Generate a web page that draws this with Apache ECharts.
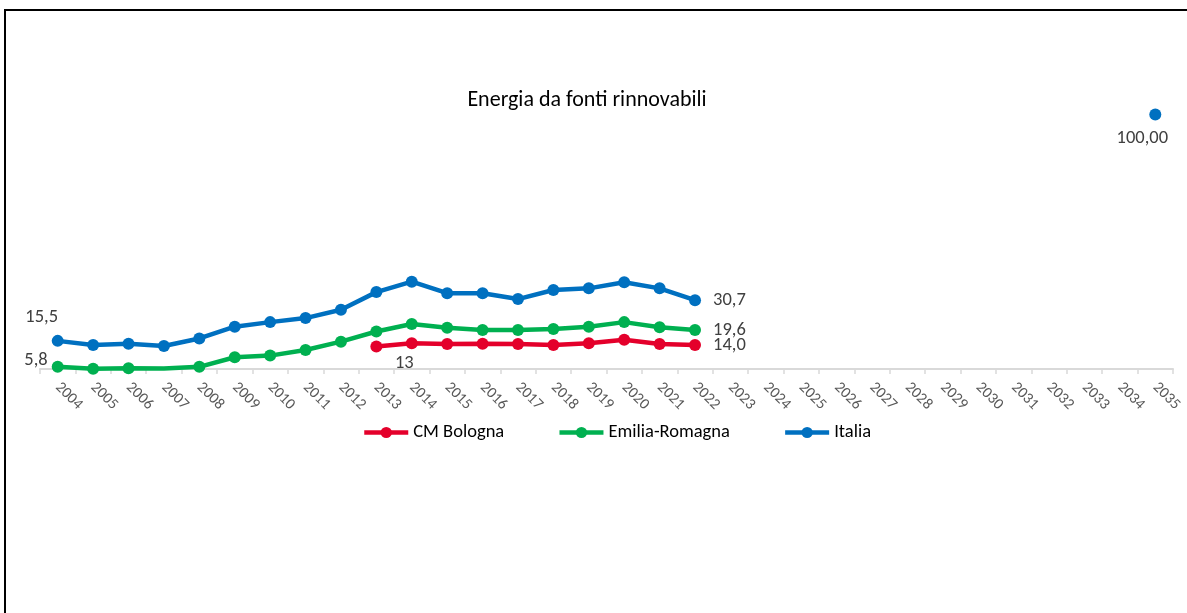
<!DOCTYPE html>
<html>
<head>
<meta charset="utf-8">
<script src="https://cdn.jsdelivr.net/npm/echarts@6/dist/echarts.min.js"></script>
<style>
html,body{margin:0;padding:0;background:#fff;}
#c{width:1187px;height:613px;}
</style>
</head>
<body>
<div id="c"></div>
<script>
// ---- data ----
const years = ['2004','2005','2006','2007','2008','2009','2010','2011','2012','2013','2014','2015','2016','2017','2018','2019','2020','2021','2022','2023','2024','2025','2026','2027','2028','2029','2030','2031','2032','2033','2034','2035'];
const bolognaValues = [null,null,null,null,null,null,null,null,null,13.4,14.6,14.3,14.4,14.3,14.0,14.6,15.9,14.3,14.0,null,null,null,null,null,null,null,null,null,null,null,null,null];
const emiliaValues = [5.8,5.1,5.3,5.2,5.8,9.4,10.0,12.1,15.2,19.0,21.8,20.4,19.6,19.6,19.9,20.8,22.5,20.6,19.6,null,null,null,null,null,null,null,null,null,null,null,null,null];
const italiaValues = [15.5,14.0,14.4,13.6,16.4,20.8,22.5,24.0,27.1,33.7,37.6,33.3,33.3,31.1,34.5,35.1,37.4,35.1,30.7,null,null,null,null,null,null,null,null,null,null,null,null,100];
const bolognaLabels = {'2013':'13','2022':'14,0'};
const emiliaLabels = {'2004':'5,8','2022':'19,6'};
const italiaLabels = {'2004':'15,5','2022':'30,7','2035':'100,00'};
const emiliaNoMarker = ['2007'];
const seriesNames = ['CM Bologna','Emilia-Romagna','Italia'];
const titleText = 'Energia da fonti rinnovabili';

// ---- styles ----
const FONT = "Carlito, Calibri, 'Open Sans', sans-serif";
const colors = {'CM Bologna':'#E4002B','Emilia-Romagna':'#00B050','Italia':'#0070C0'};
const labelPlacement = {
  'CM Bologna|2013': {position:'bottom', offset:[28,-4]},
  'CM Bologna|2022': {position:'right', offset:[7,0]},
  'Emilia-Romagna|2004': {position:'left', offset:[1,-6]},
  'Emilia-Romagna|2022': {position:'right', offset:[7,0]},
  'Italia|2004': {position:'top', offset:[-16,-3]},
  'Italia|2022': {position:'right', offset:[7,0]},
  'Italia|2035': {position:'bottom', offset:[-13,3]}
};

function buildData(name, values, labels, noMarker) {
  return values.map((v, i) => {
    const y = years[i];
    const item = {value: v};
    if (noMarker && noMarker.indexOf(y) >= 0) { item.symbol = 'none'; }
    if (labels[y] !== undefined) {
      const p = labelPlacement[name + '|' + y];
      item.label = {
        show: true,
        formatter: labels[y],
        position: p.position,
        offset: p.offset,
        distance: 5,
        color: '#404040',
        fontSize: 18.5,
        fontFamily: FONT
      };
    }
    return item;
  });
}

function mkSeries(name, values, labels, noMarker) {
  return {
    name: name,
    type: 'line',
    data: buildData(name, values, labels, noMarker),
    symbol: 'circle',
    symbolSize: 12,
    showSymbol: true,
    showAllSymbol: true,
    connectNulls: false,
    clip: false,
    color: colors[name],
    lineStyle: {width: 4.5, color: colors[name]},
    itemStyle: {color: colors[name]},
    label: {show: false},
    emphasis: {disabled: true},
    animation: false,
    z: 2
  };
}

const chart = echarts.init(document.getElementById('c'), null, {renderer: 'canvas'});
chart.setOption({
  animation: false,
  backgroundColor: '#fff',
  title: {
    text: titleText,
    left: 582,
    top: 84,
    textAlign: 'center',
    textStyle: {fontFamily: FONT, fontSize: 22, fontWeight: 'normal', color: '#000'}
  },
  legend: {
    data: seriesNames,
    left: 362,
    top: 423,
    padding: 0,
    itemWidth: 44,
    itemHeight: 14,
    itemGap: 53,
    lineStyle: {width: 4.5},
    textStyle: {fontFamily: FONT, fontSize: 18.5, color: '#000'}
  },
  grid: {
    left: 40,
    right: 14,
    top: 114.5,
    bottom: 244,
    containLabel: false,
    outerBoundsMode: 'none'
  },
  xAxis: {
    type: 'category',
    data: years,
    boundaryGap: true,
    axisLine: {show: true, lineStyle: {color: '#D9D9D9', width: 2}},
    axisTick: {show: true, length: 5, lineStyle: {color: '#D9D9D9', width: 1.5}},
    axisLabel: {
      interval: 0,
      rotate: -45,
      margin: 16,
      color: '#595959',
      fontSize: 15.5,
      fontFamily: FONT
    },
    splitLine: {show: false}
  },
  yAxis: {
    type: 'value',
    min: 5,
    max: 100,
    show: false,
    splitLine: {show: false}
  },
  graphic: [{
    type: 'polyline',
    shape: {points: [[5, 613], [5, 10], [1187, 10]]},
    style: {stroke: '#000', lineWidth: 2, fill: null},
    silent: true
  }],
  series: [
    mkSeries('CM Bologna', bolognaValues, bolognaLabels),
    mkSeries('Emilia-Romagna', emiliaValues, emiliaLabels, emiliaNoMarker),
    mkSeries('Italia', italiaValues, italiaLabels)
  ]
});
</script>
</body>
</html>
